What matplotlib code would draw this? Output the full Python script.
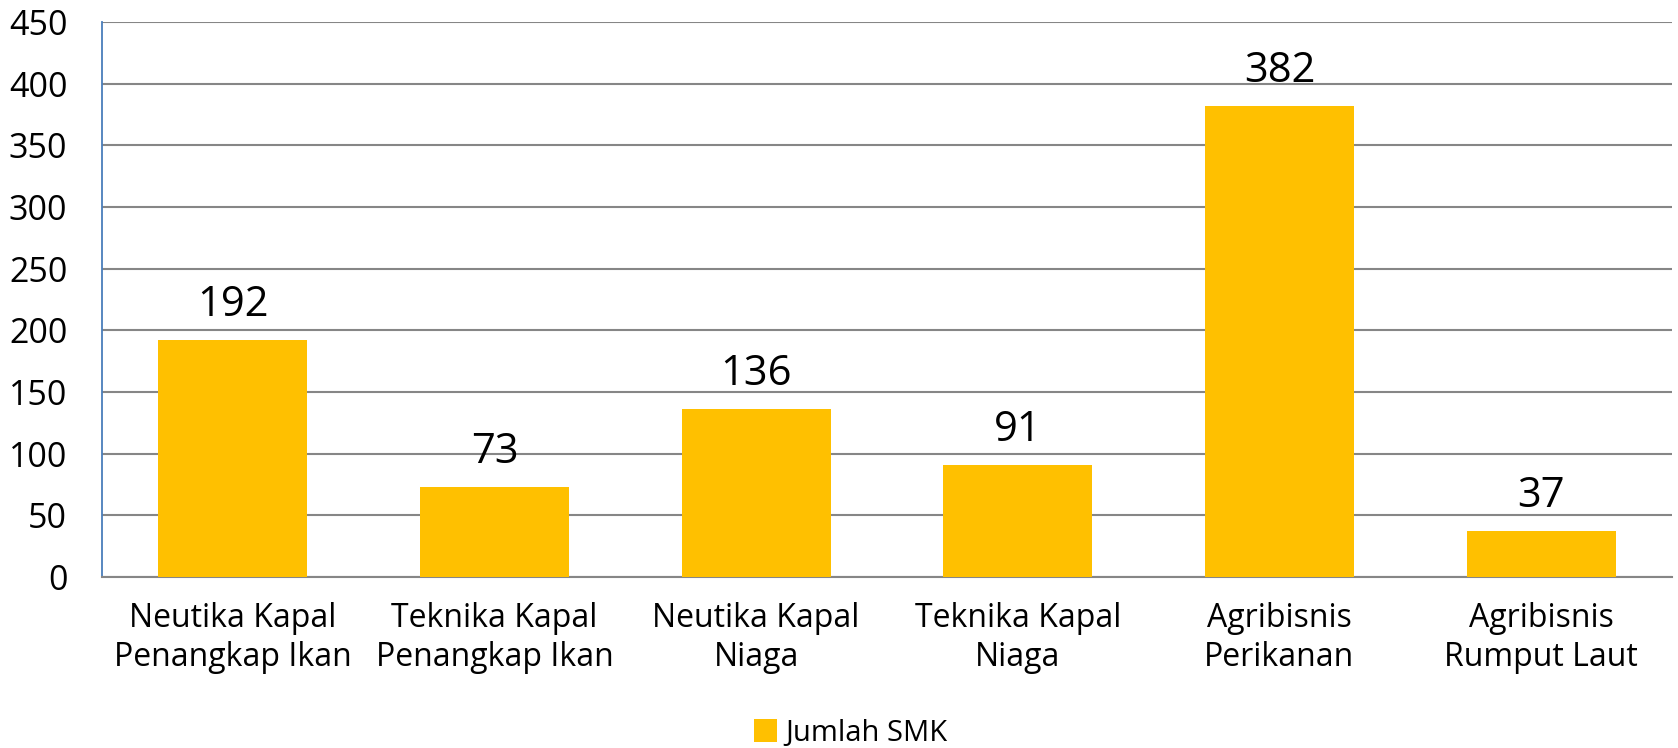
import matplotlib
matplotlib.use("Agg")
import matplotlib.pyplot as plt
from matplotlib.patches import Patch

categories = ["Neutika Kapal\nPenangkap Ikan", "Teknika Kapal\nPenangkap Ikan",
              "Neutika Kapal\nNiaga", "Teknika Kapal\nNiaga",
              "Agribisnis\nPerikanan", "Agribisnis\nRumput Laut"]
values = [192, 73, 136, 91, 382, 37]
series_name = "Jumlah SMK"
yticks = [0, 50, 100, 150, 200, 250, 300, 350, 400, 450]

plt.rcParams['font.family'] = ['Open Sans', 'DejaVu Sans']

fig = plt.figure(figsize=(16.78, 7.48), dpi=100)
ax = fig.add_axes([102/1678, 1-577/748, (1672-102)/1678, (577-22)/748])

x = range(len(categories))
bars = ax.bar(x, values, width=0.57, color="#FFC000", zorder=3, label=series_name)
ax.bar_label(bars, labels=[str(v) for v in values], padding=10, fontsize=30, color="black")

ax.set_xlim(-0.5, len(categories) - 0.5)
ax.set_ylim(0, 450)
ax.set_yticks(yticks)
ax.set_yticklabels([str(t) for t in yticks], fontsize=24.5)
ax.set_xticks(list(x))
ax.set_xticklabels(categories, fontsize=23, linespacing=1.25)
ax.tick_params(axis='y', length=0, pad=25)
ax.tick_params(axis='x', length=0, pad=18)

ax.grid(axis='y', color="#868686", linewidth=1.5, zorder=0)
for s in ['top', 'right']:
    ax.spines[s].set_visible(False)
ax.spines['left'].set_color("#4A7EBB")
ax.spines['left'].set_linewidth(1.3)
ax.spines['bottom'].set_color("#868686")
ax.spines['bottom'].set_linewidth(1.5)

handle = Patch(facecolor="#FFC000", edgecolor="none")
fig.legend([handle], [series_name], loc='lower center', bbox_to_anchor=(0.507, -0.019),
           frameon=False, fontsize=21, handlelength=0.8, handleheight=0.8,
           handletextpad=0.3, borderpad=0)

fig.savefig("out.png", dpi=100)
